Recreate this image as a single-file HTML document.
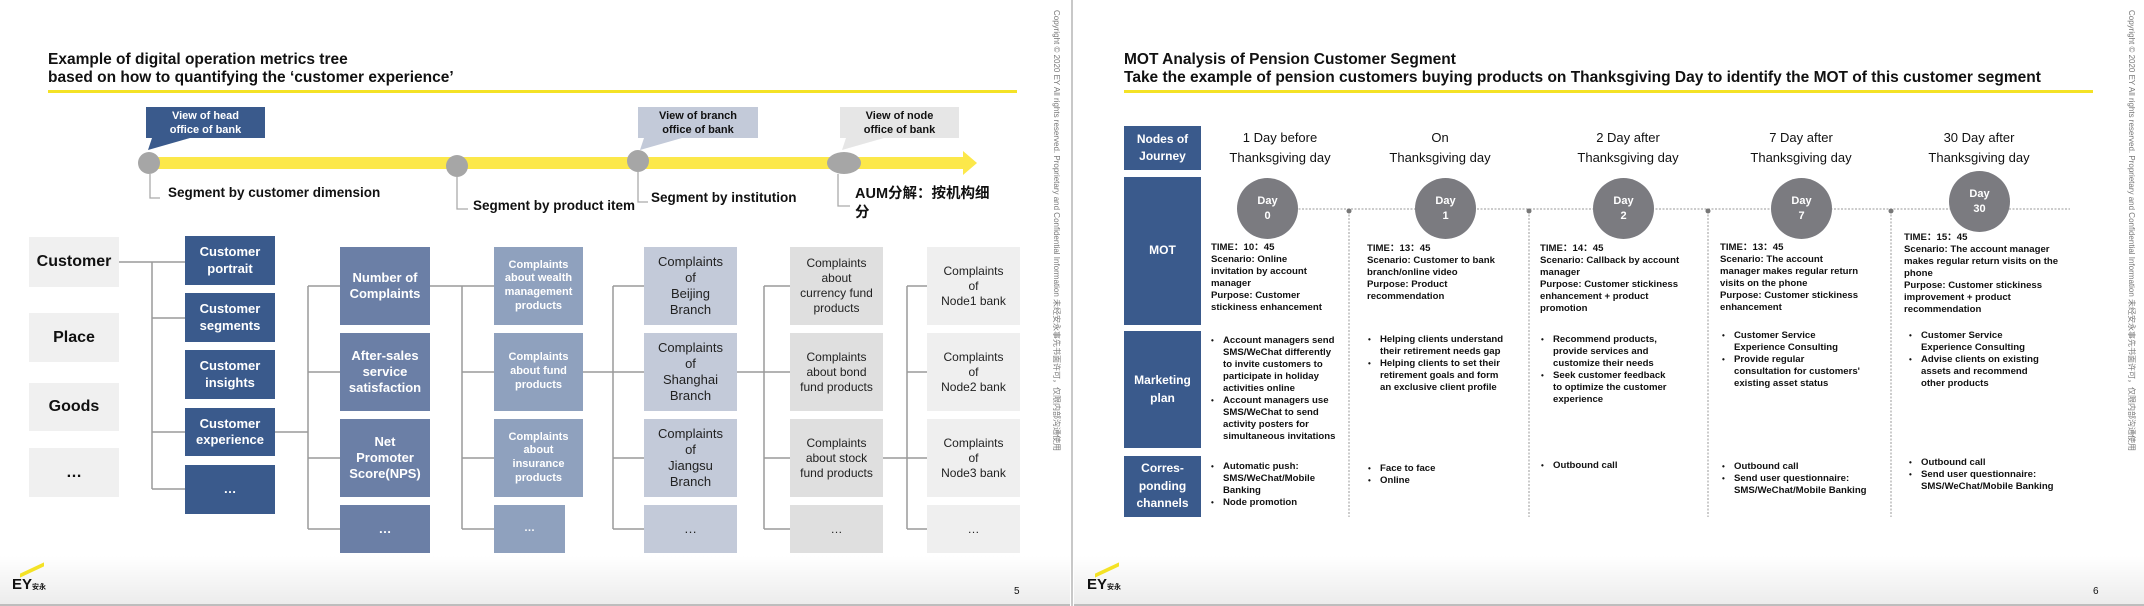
<!DOCTYPE html>
<html><head><meta charset="utf-8"><style>
*{margin:0;padding:0;box-sizing:border-box}
body{width:2144px;height:606px;position:relative;background:#fff;font-family:"Liberation Sans","Noto Sans CJK SC",sans-serif;overflow:hidden;color:#111}
.a{position:absolute}
.t{font-weight:bold;font-size:15.5px;line-height:18px;white-space:nowrap}
.bx{position:absolute;display:flex;align-items:center;justify-content:center;text-align:center;line-height:1.25}
.c2{background:#3a5a8c;color:#fff;font-weight:bold;font-size:13px}
.c3{background:#6b7fa6;color:#fff;font-weight:bold;font-size:13px}
.c4{background:#8fa1be;color:#fff;font-weight:bold;font-size:11px}
.c5{background:#c3cad9;color:#222;font-size:13px}
.c6{background:#dfdfdf;color:#222;font-size:12px}
.c7{background:#efefef;color:#222;font-size:12px}
.c1{background:#f0f0f0;color:#111;font-weight:bold;font-size:16px}
.lbl{font-weight:bold;font-size:13.5px;white-space:nowrap}
.rh{position:absolute;left:1124px;width:77px;background:#3a5a8c;color:#fff;font-weight:bold;font-size:12px;display:flex;align-items:center;justify-content:center;text-align:center;line-height:1.45}
.ch{position:absolute;top:128px;width:170px;text-align:center;font-size:13px;line-height:20px;white-space:nowrap}
.day{position:absolute;width:61px;height:61px;border-radius:50%;background:#7b7b80;color:#fff;font-weight:bold;font-size:11px;display:flex;align-items:center;justify-content:center;text-align:center;line-height:15px}
.tx{position:absolute;font-weight:bold;font-size:9.6px;line-height:12px;white-space:nowrap;color:#111}
.ul{position:absolute;font-weight:bold;font-size:9.6px;line-height:12px;white-space:nowrap;list-style:none}
.ul li{position:relative;padding-left:12px}
.ul li:before{content:"•";position:absolute;left:0;font-size:8px}
.foot{position:absolute;top:556px;height:50px;background:linear-gradient(#fff,#ececec);border-bottom:2px solid #bdbdbd}
.cp{position:absolute;top:10px;transform-origin:0 0;transform:rotate(90deg);font-size:8px;color:#777;white-space:nowrap}
</style></head><body>

<div class="foot" style="left:0;width:1070px"></div>
<div class="foot" style="left:1074px;width:1070px"></div>
<div class="a" style="left:1071px;top:0;width:2px;height:606px;background:#c8c8c8"></div>

<div class="a t" style="left:48px;top:51px">Example of digital operation metrics tree<br>based on how to quantifying the ‘customer experience’</div>
<div class="a" style="left:48px;top:90px;width:969px;height:3px;background:#f4e226"></div>

<svg class="a" style="left:0;top:0" width="2144" height="606">
<rect x="149" y="157" width="816" height="12" fill="#fce84a"/>
<polygon points="963,151 977,163 963,175" fill="#fce84a"/>
<polygon points="152,138 190,138 148,150" fill="#3a5a8c"/>
<polygon points="644,138 682,138 640,150" fill="#c3cad9"/>
<polygon points="846,138 884,138 842,150" fill="#e6e6e6"/>
<g fill="#a6a6a6">
<circle cx="149" cy="163" r="11"/><circle cx="457" cy="166" r="11"/><circle cx="638" cy="161" r="11"/><ellipse cx="844" cy="163" rx="17" ry="11"/>
</g>
<g stroke="#aaa" stroke-width="1.3" fill="none">
<path d="M150 174V198H160M457 177V209H468M638 172V202H648M838 174V206H850"/>
</g>
<g stroke="#9a9a9a" stroke-width="1.5" fill="none">
<path d="M119 262H152M152 262V489M152 262H185M152 318H185M152 432H185M152 489H185"/>
<path d="M275 432H308M308 286V529M308 286H340M308 372H340M308 458H340M308 529H340"/>
<path d="M430 286H462M462 286V529M462 286H494M462 372H494M462 458H494M462 529H494"/>
<path d="M583 372H613M613 286V529M613 286H644M613 372H644M613 458H644M613 529H644"/>
<path d="M737 372H764M764 286V529M764 286H790M764 372H790M764 458H790M764 529H790"/>
<path d="M883 458H907M907 286V529M907 286H927M907 372H927M907 458H927M907 529H927"/>
</g>
<g stroke="#999" stroke-width="1" stroke-dasharray="2,1.5" fill="none">
<path d="M1267 209H2070"/>
<path d="M1349 211V517M1529 211V517M1708 211V517M1891 211V517"/>
</g>
<g fill="#777"><circle cx="1349" cy="211" r="2.5"/><circle cx="1529" cy="211" r="2.5"/><circle cx="1708" cy="211" r="2.5"/><circle cx="1891" cy="211" r="2.5"/></g>
</svg>

<div class="bx" style="left:146px;top:107px;width:119px;height:31px;background:#3a5a8c;color:#fff;font-weight:bold;font-size:11px;line-height:14px">View of head<br>office of bank</div>
<div class="bx" style="left:638px;top:107px;width:120px;height:31px;background:#c3cad9;color:#111;font-weight:bold;font-size:11px;line-height:14px">View of branch<br>office of bank</div>
<div class="bx" style="left:840px;top:107px;width:119px;height:31px;background:#e6e6e6;color:#111;font-weight:bold;font-size:11px;line-height:14px">View of node<br>office of bank</div>

<div class="a lbl" style="left:168px;top:185px">Segment by customer dimension</div>
<div class="a lbl" style="left:473px;top:198px">Segment by product item</div>
<div class="a lbl" style="left:651px;top:190px">Segment by institution</div>
<div class="a lbl" style="left:855px;top:185px;font-size:14.5px;line-height:19px">AUM分解：按机构细<br>分</div>

<div class="bx c1" style="left:29px;top:237px;width:90px;height:50px">Customer</div>
<div class="bx c1" style="left:29px;top:313px;width:90px;height:49px">Place</div>
<div class="bx c1" style="left:29px;top:383px;width:90px;height:48px">Goods</div>
<div class="bx c1" style="left:29px;top:448px;width:90px;height:49px">…</div>

<div class="bx c2" style="left:185px;top:236px;width:90px;height:49px">Customer<br>portrait</div>
<div class="bx c2" style="left:185px;top:293px;width:90px;height:49px">Customer<br>segments</div>
<div class="bx c2" style="left:185px;top:350px;width:90px;height:49px">Customer<br>insights</div>
<div class="bx c2" style="left:185px;top:408px;width:90px;height:48px">Customer<br>experience</div>
<div class="bx c2" style="left:185px;top:465px;width:90px;height:49px">…</div>

<div class="bx c3" style="left:340px;top:247px;width:90px;height:78px">Number of<br>Complaints</div>
<div class="bx c3" style="left:340px;top:333px;width:90px;height:78px">After-sales<br>service<br>satisfaction</div>
<div class="bx c3" style="left:340px;top:419px;width:90px;height:78px">Net<br>Promoter<br>Score(NPS)</div>
<div class="bx c3" style="left:340px;top:505px;width:90px;height:48px">…</div>

<div class="bx c4" style="left:494px;top:247px;width:89px;height:78px">Complaints<br>about wealth<br>management<br>products</div>
<div class="bx c4" style="left:494px;top:333px;width:89px;height:78px">Complaints<br>about fund<br>products</div>
<div class="bx c4" style="left:494px;top:419px;width:89px;height:78px">Complaints<br>about<br>insurance<br>products</div>
<div class="bx c4" style="left:494px;top:505px;width:71px;height:48px">…</div>

<div class="bx c5" style="left:644px;top:247px;width:93px;height:78px">Complaints<br>of<br>Beijing<br>Branch</div>
<div class="bx c5" style="left:644px;top:333px;width:93px;height:78px">Complaints<br>of<br>Shanghai<br>Branch</div>
<div class="bx c5" style="left:644px;top:419px;width:93px;height:78px">Complaints<br>of<br>Jiangsu<br>Branch</div>
<div class="bx c5" style="left:644px;top:505px;width:93px;height:48px">…</div>

<div class="bx c6" style="left:790px;top:247px;width:93px;height:78px">Complaints<br>about<br>currency fund<br>products</div>
<div class="bx c6" style="left:790px;top:333px;width:93px;height:78px">Complaints<br>about bond<br>fund products</div>
<div class="bx c6" style="left:790px;top:419px;width:93px;height:78px">Complaints<br>about stock<br>fund products</div>
<div class="bx c6" style="left:790px;top:505px;width:93px;height:48px">…</div>

<div class="bx c7" style="left:927px;top:247px;width:93px;height:78px">Complaints<br>of<br>Node1 bank</div>
<div class="bx c7" style="left:927px;top:333px;width:93px;height:78px">Complaints<br>of<br>Node2 bank</div>
<div class="bx c7" style="left:927px;top:419px;width:93px;height:78px">Complaints<br>of<br>Node3 bank</div>
<div class="bx c7" style="left:927px;top:505px;width:93px;height:48px">…</div>

<div class="a" style="left:12px;top:568px;font-weight:bold;font-size:15px"><div style="width:24px;height:4px;background:#f4e226;transform:skewY(-25deg);margin:0 0 4px 8px"></div>EY<span style="font-size:7px">安永</span></div>
<div class="a" style="left:1014px;top:586px;font-size:10px">5</div>
<div class="cp" style="left:1062px">Copyright © 2020 EY All rights reserved. Proprietary and Confidential Information 未经安永事先书面许可，仅限内部沟通使用</div>

<div class="a t" style="left:1124px;top:51px">MOT Analysis of Pension Customer Segment<br>Take the example of pension customers buying products on Thanksgiving Day to identify the MOT of this customer segment</div>
<div class="a" style="left:1124px;top:90px;width:969px;height:3px;background:#f4e226"></div>

<div class="rh" style="top:126px;height:44px">Nodes of<br>Journey</div>
<div class="rh" style="top:177px;height:148px">MOT</div>
<div class="rh" style="top:331px;height:117px">Marketing<br>plan</div>
<div class="rh" style="top:456px;height:61px">Corres-<br>ponding<br>channels</div>

<div class="ch" style="left:1195px">1 Day before<br>Thanksgiving day</div>
<div class="ch" style="left:1355px">On<br>Thanksgiving day</div>
<div class="ch" style="left:1543px">2 Day after<br>Thanksgiving day</div>
<div class="ch" style="left:1716px">7 Day after<br>Thanksgiving day</div>
<div class="ch" style="left:1894px">30 Day after<br>Thanksgiving day</div>

<div class="day" style="left:1237px;top:178px">Day<br>0</div>
<div class="day" style="left:1415px;top:178px">Day<br>1</div>
<div class="day" style="left:1593px;top:178px">Day<br>2</div>
<div class="day" style="left:1771px;top:178px">Day<br>7</div>
<div class="day" style="left:1949px;top:171px">Day<br>30</div>

<div class="tx" style="left:1211px;top:242px">TIME：10：45<br>Scenario: Online<br>invitation by account<br>manager<br>Purpose: Customer<br>stickiness enhancement</div>
<div class="tx" style="left:1367px;top:243px">TIME：13：45<br>Scenario: Customer to bank<br>branch/online video<br>Purpose: Product<br>recommendation</div>
<div class="tx" style="left:1540px;top:243px">TIME：14：45<br>Scenario: Callback by account<br>manager<br>Purpose: Customer stickiness<br>enhancement + product<br>promotion</div>
<div class="tx" style="left:1720px;top:242px">TIME：13：45<br>Scenario: The account<br>manager makes regular return<br>visits on the phone<br>Purpose: Customer stickiness<br>enhancement</div>
<div class="tx" style="left:1904px;top:232px">TIME：15：45<br>Scenario: The account manager<br>makes regular return visits on the<br>phone<br>Purpose: Customer stickiness<br>improvement + product<br>recommendation</div>

<ul class="ul" style="left:1211px;top:335px"><li>Account managers send<br>SMS/WeChat differently<br>to invite customers to<br>participate in holiday<br>activities online</li><li>Account managers use<br>SMS/WeChat to send<br>activity posters for<br>simultaneous invitations</li></ul>
<ul class="ul" style="left:1368px;top:334px"><li>Helping clients understand<br>their retirement needs gap</li><li>Helping clients to set their<br>retirement goals and form<br>an exclusive client profile</li></ul>
<ul class="ul" style="left:1541px;top:334px"><li>Recommend products,<br>provide services and<br>customize their needs</li><li>Seek customer feedback<br>to optimize the customer<br>experience</li></ul>
<ul class="ul" style="left:1722px;top:330px"><li>Customer Service<br>Experience Consulting</li><li>Provide regular<br>consultation for customers'<br>existing asset status</li></ul>
<ul class="ul" style="left:1909px;top:330px"><li>Customer Service<br>Experience Consulting</li><li>Advise clients on existing<br>assets and recommend<br>other products</li></ul>

<ul class="ul" style="left:1211px;top:461px"><li>Automatic push:<br>SMS/WeChat/Mobile<br>Banking</li><li>Node promotion</li></ul>
<ul class="ul" style="left:1368px;top:463px"><li>Face to face</li><li>Online</li></ul>
<ul class="ul" style="left:1541px;top:460px"><li>Outbound call</li></ul>
<ul class="ul" style="left:1722px;top:461px"><li>Outbound call</li><li>Send user questionnaire:<br>SMS/WeChat/Mobile Banking</li></ul>
<ul class="ul" style="left:1909px;top:457px"><li>Outbound call</li><li>Send user questionnaire:<br>SMS/WeChat/Mobile Banking</li></ul>

<div class="a" style="left:1087px;top:568px;font-weight:bold;font-size:15px"><div style="width:24px;height:4px;background:#f4e226;transform:skewY(-25deg);margin:0 0 4px 8px"></div>EY<span style="font-size:7px">安永</span></div>
<div class="a" style="left:2093px;top:586px;font-size:10px">6</div>
<div class="cp" style="left:2137px">Copyright © 2020 EY All rights reserved. Proprietary and Confidential Information 未经安永事先书面许可，仅限内部沟通使用</div>
</body></html>
